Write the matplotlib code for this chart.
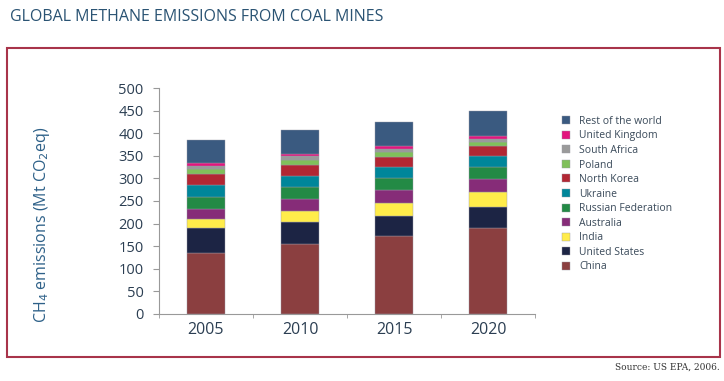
import numpy as np
import matplotlib.pyplot as plt
from matplotlib.patches import Rectangle

years = ["2005", "2010", "2015", "2020"]

# stacked from bottom to top (Mt CO2eq)
china = [136, 154, 172, 190]
united_states = [54, 50, 45, 46]
india = [20, 24, 28, 34]
australia = [22, 26, 29, 28]
russia = [26, 27, 27, 27]
ukraine = [27, 25, 24, 24]
north_korea = [24, 24, 23, 22]
poland = [11, 11, 10, 9]
south_africa = [8, 8, 7, 8]
united_kingdom = [7, 6, 6, 6]
rest_world = [51, 52, 53, 56]

series = [
  ("China", china, "#8b3f40"),
  ("United States", united_states, "#1c2444"),
  ("India", india, "#ffec4a"),
  ("Australia", australia, "#862c78"),
  ("Russian Federation", russia, "#238a45"),
  ("Ukraine", ukraine, "#00869a"),
  ("North Korea", north_korea, "#b22733"),
  ("Poland", poland, "#80c05a"),
  ("South Africa", south_africa, "#9a9a9a"),
  ("United Kingdom", united_kingdom, "#e3157e"),
  ("Rest of the world", rest_world, "#3a5a80"),
]

plt.rcParams['font.family'] = ['Open Sans', 'DejaVu Sans']
txt_col = "#2b3e52"

fig = plt.figure(figsize=(7.24, 3.81), dpi=100)

# red frame round the chart
frame = Rectangle((0.0097, 0.063), 0.985, 0.811, transform=fig.transFigure,
                  fill=False, edgecolor="#a8344a", linewidth=1.5)
fig.patches.append(frame)

fig.text(0.014, 0.955, "GLOBAL METHANE EMISSIONS FROM COAL MINES",
         fontsize=11.5, color="#2a5373", va="center", ha="left")
fig.text(0.994, 0.035, "Source: US EPA, 2006.", family="DejaVu Serif",
         fontsize=6.5, color="#333333", ha="right", va="center")

ax = fig.add_axes([0.2196, 0.1759, 0.5194, 0.5931])
x = np.arange(len(years))
bottom = np.zeros(len(years))
handles = []
for name, vals, col in series:
  b = ax.bar(x, vals, width=0.41, bottom=bottom, color=col,
             edgecolor="#9a9aa8", linewidth=0.3, label=name)
  bottom += np.array(vals)
  handles.append(b)

ax.set_xlim(-0.5, 3.5)
ax.set_ylim(0, 500)
ax.set_yticks(np.arange(0, 501, 50))
ax.set_xticks(x)
ax.set_xticklabels(years)
ax.set_xticks(np.arange(-0.5, 3.6, 1), minor=True)
ax.tick_params(axis="x", which="major", length=0, pad=6, labelsize=11.5, labelcolor=txt_col)
ax.tick_params(axis="x", which="minor", length=3, color="#999999", direction="out")
ax.tick_params(axis="y", length=4, color="#999999", labelsize=10.5, labelcolor=txt_col, pad=7)
for s in ["top", "right"]:
  ax.spines[s].set_visible(False)
for s in ["left", "bottom"]:
  ax.spines[s].set_color("#999999")
  ax.spines[s].set_linewidth(0.8)

ax.set_ylabel("CH$_4$ emissions (Mt CO$_2$eq)", color="#2d6088", fontsize=11.5)
ax.yaxis.set_label_coords(-0.285, 0.394)

leg = ax.legend(handles[::-1], [s[0] for s in series][::-1], loc="upper left",
                bbox_to_anchor=(1.06, 0.895), frameon=False, fontsize=7.5,
                handlelength=0.8, handleheight=0.8, handletextpad=0.9,
                labelspacing=0.34, borderaxespad=0)
for t in leg.get_texts():
  t.set_color("#3a4a5a")

fig.savefig("out.png", dpi=100)
